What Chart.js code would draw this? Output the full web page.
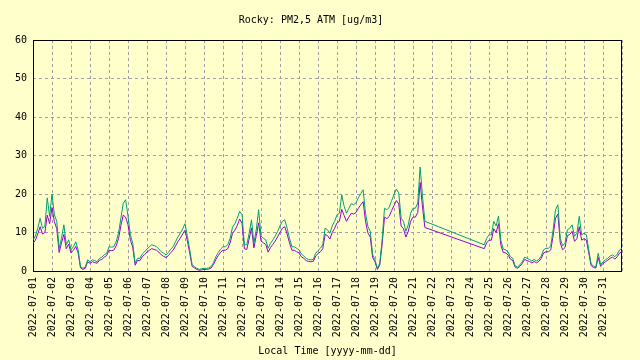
<!DOCTYPE html>
<html><head><meta charset="utf-8">
<script src="https://cdn.jsdelivr.net/npm/chart.js@4/dist/chart.umd.min.js"></script>
<style>html,body{margin:0;padding:0;background:#ffffcc;}#wrap{width:640px;height:360px;}</style>
</head><body><div id="wrap"><canvas id="c" width="640" height="360"></canvas></div>
<script>
const titleText = 'Rocky: PM2,5 ATM [ug/m3]';
const xAxisTitle = 'Local Time [yyyy-mm-dd]';
const dayLabels = ['2022-07-01','2022-07-02','2022-07-03','2022-07-04','2022-07-05','2022-07-06','2022-07-07','2022-07-08','2022-07-09','2022-07-10','2022-07-11','2022-07-12','2022-07-13','2022-07-14','2022-07-15','2022-07-16','2022-07-17','2022-07-18','2022-07-19','2022-07-20','2022-07-21','2022-07-22','2022-07-23','2022-07-24','2022-07-25','2022-07-26','2022-07-27','2022-07-28','2022-07-29','2022-07-30','2022-07-31'];
const yMin = 0, yMax = 60, yStep = 10;
const stepHours = 3; // one sample every 3 hours, starting 2022-07-01 00:00
const N = null;
const greenValues = [
 8.1, 9.1, 11.1, 13.7, 11.1, 11.6, 19, 14.2,
 20, 14.6, 12.9, 5.9, 8.5, 12, 6.8, 8.1,
 5.5, 6.3, 7.6, 5.5, 1.1, 0.7, 1.0, 2.9,
 2.4, 2.9, 2.7, 2.4, 3.3, 3.6, 4.2, 4.6,
 6.3, 6.2, 6.3, 7.6, 9.8, 13.7, 17.6, 18.5,
 14.2, 9.4, 7.2, 2.0, 3.3, 3.3, 4.4, 5.0,
 5.7, 6.3, 6.8, 6.6, 6.3, 5.7, 5.0, 4.6,
 4.2, 4.8, 5.7, 6.3, 7.6, 8.8, 9.8, 10.9,
 12.3, 9.0, 5.5, 1.6, 1.1, 0.7, 0.4, 0.6,
 0.7, 0.7, 0.8, 1.1, 2.2, 3.7, 4.8, 5.7,
 6.3, 6.3, 6.8, 8.5, 11.4, 12.3, 13.7, 15.5,
 14.6, 6.8, 6.8, 9.8, 13.3, 7.2, 10.7, 15.9,
 9.1, 8.5, 8.1, 5.9, 7.2, 8.1, 9.1, 10.3,
 11.7, 12.9, 13.3, 11.1, 8.5, 6.3, 6.3, 5.9,
 5.5, 4.4, 3.9, 3.3, 3.0, 2.9, 3.0, 4.6,
 5.3, 5.9, 6.8, 11.1, 10.7, 9.8, 11.7, 12.9,
 14.6, 15.0, 19.8, 16.8, 15.0, 16.3, 17.5, 17.2,
 17.7, 19.0, 20.1, 21.1, 15.0, 11.6, 10.3, 4.2,
 2.9, 0.7, 2.0, 8.1, 16.3, 15.9, 16.6, 18.3,
 19.8, 21.3, 20.3, 13.7, 12.9, 10.3, 12.0, 15.0,
 16.3, 16.3, 17.7, 27.0, 19.4, 12.9, N, N,
 N, N, N, N, N, N, N, N,
 N, N, N, N, N, N, N, N,
 N, N, N, N, N, N, 6.8, 8.5,
 9.4, 9.4, 12.9, 11.7, 14.3, 7.9, 5.7, 5.5,
 5.0, 3.7, 3.3, 1.3, 1.0, 1.6, 2.4, 3.6,
 3.3, 3.0, 2.6, 3.0, 2.6, 3.0, 3.9, 5.5,
 5.9, 5.9, 6.5, 10.7, 15.9, 17.2, 8.5, 6.5,
 7.2, 10.7, 11.1, 12.0, 9.0, 9.8, 14.2, 9.4,
 9.8, 9.4, 5.5, 1.8, 1.3, 1.1, 4.6, 1.6,
 2.4, 2.9, 3.3, 3.9, 4.2, 3.7, 4.4, 5.5,
 5.9
];
const purpleValues = [
 7.2, 8.0, 9.6, 11.5, 9.6, 10.0, 14.5, 12.3,
 16.5, 12.8, 11.0, 4.8, 7.3, 9.5, 5.8, 7.0,
 4.7, 5.4, 6.4, 4.7, 0.8, 0.4, 0.7, 2.4,
 2.0, 2.4, 2.2, 2.0, 2.8, 3.0, 3.6, 4.0,
 5.4, 5.3, 5.4, 6.5, 8.4, 11.8, 14.5, 14.0,
 12.0, 8.0, 6.2, 1.5, 2.7, 2.7, 3.7, 4.3,
 4.9, 5.4, 5.8, 5.6, 5.4, 4.9, 4.2, 3.8,
 3.5, 4.0, 4.8, 5.4, 6.5, 7.6, 8.5, 9.6,
 10.6, 7.8, 4.6, 1.2, 0.8, 0.4, 0.2, 0.3,
 0.4, 0.4, 0.5, 0.8, 1.7, 3.0, 4.0, 4.9,
 5.4, 5.4, 5.8, 7.3, 9.8, 10.6, 11.8, 13.5,
 12.4, 5.8, 5.6, 8.3, 11.2, 6.0, 9.2, 12.5,
 7.8, 7.3, 6.9, 4.9, 6.1, 6.9, 7.8, 8.9,
 10.0, 11.1, 11.5, 9.6, 7.3, 5.4, 5.4, 5.0,
 4.7, 3.7, 3.3, 2.7, 2.5, 2.4, 2.5, 3.9,
 4.5, 5.0, 5.8, 9.5, 9.2, 8.3, 10.0, 11.1,
 12.5, 12.9, 16.0, 14.4, 12.9, 14.0, 15.0, 14.8,
 15.2, 16.3, 17.2, 18.0, 12.9, 9.9, 8.8, 3.5,
 2.4, 0.4, 1.6, 6.9, 14.0, 13.6, 14.2, 15.7,
 17.0, 18.3, 17.4, 11.7, 11.0, 8.8, 10.3, 12.9,
 14.0, 14.0, 15.2, 23.0, 16.6, 11.3, N, N,
 N, N, N, N, N, N, N, N,
 N, N, N, N, N, N, N, N,
 N, N, N, N, N, N, 5.8, 7.3,
 8.0, 8.0, 11.0, 10.0, 12.3, 6.7, 4.8, 4.7,
 4.2, 3.1, 2.7, 1.0, 0.7, 1.2, 2.0, 3.0,
 2.7, 2.5, 2.1, 2.5, 2.1, 2.5, 3.3, 4.7,
 5.0, 5.0, 5.5, 9.2, 13.7, 14.8, 7.3, 5.5,
 6.1, 9.2, 9.5, 10.3, 7.7, 8.4, 11.5, 8.0,
 8.4, 8.0, 4.7, 1.4, 0.9, 0.8, 3.5, 1.2,
 2.0, 2.4, 2.8, 3.3, 3.6, 3.1, 3.7, 4.7,
 5.0
];

const toPoints = arr => arr.map((v, i) => ({x: i * stepHours, y: v}));
const font = {family: 'DejaVu Sans Mono', size: 10, lineHeight: 1.2, weight: 'normal'};
const gridColor = '#a0a0a0';

const boxPlugin = {
  id: 'box',
  beforeDatasetsDraw(chart) {
    const a = chart.chartArea, ctx = chart.ctx;
    ctx.save();
    ctx.strokeStyle = '#000';
    ctx.lineWidth = 1;
    ctx.strokeRect(Math.round(a.left) + 0.5, Math.round(a.top) + 0.5, Math.round(a.right - a.left) - 1, Math.round(a.bottom - a.top));
    ctx.restore();
  }
};

new Chart(document.getElementById('c'), {
  type: 'line',
  data: {
    datasets: [
      {label: 'green', data: toPoints(greenValues), borderColor: '#009e73', borderWidth: 1, pointRadius: 0, tension: 0, spanGaps: true, fill: false},
      {label: 'purple', data: toPoints(purpleValues), borderColor: '#9400d3', borderWidth: 1, pointRadius: 0, tension: 0, spanGaps: true, fill: false}
    ]
  },
  options: {
    responsive: false,
    animation: false,
    layout: {padding: {top: 0, right: 18, left: 0, bottom: 0}},
    plugins: {
      legend: {display: false},
      tooltip: {enabled: false},
      title: {display: true, text: titleText, font: font, color: '#000', padding: {top: 14, bottom: 14}}
    },
    scales: {
      x: {
        type: 'linear', min: 0, max: dayLabels.length * 24,
        afterFit(s) { s.height = 89; },
        ticks: {stepSize: 24, autoSkip: false, minRotation: 90, maxRotation: 90, padding: 6, color: '#000', font: font,
          callback: v => dayLabels[v / 24] || ''},
        grid: {color: gridColor, lineWidth: 1, drawTicks: false},
        border: {display: false, dash: [3, 3]},
        title: {display: true, text: xAxisTitle, font: font, color: '#000', padding: {top: 0, bottom: 3}}
      },
      y: {
        min: yMin, max: yMax,
        afterFit(s) { s.width = 33; },
        ticks: {stepSize: yStep, padding: 6, color: '#000', font: font},
        grid: {color: gridColor, lineWidth: 1, drawTicks: false},
        border: {display: false, dash: [3, 3]}
      }
    }
  },
  plugins: [boxPlugin]
});
</script>
</body></html>
